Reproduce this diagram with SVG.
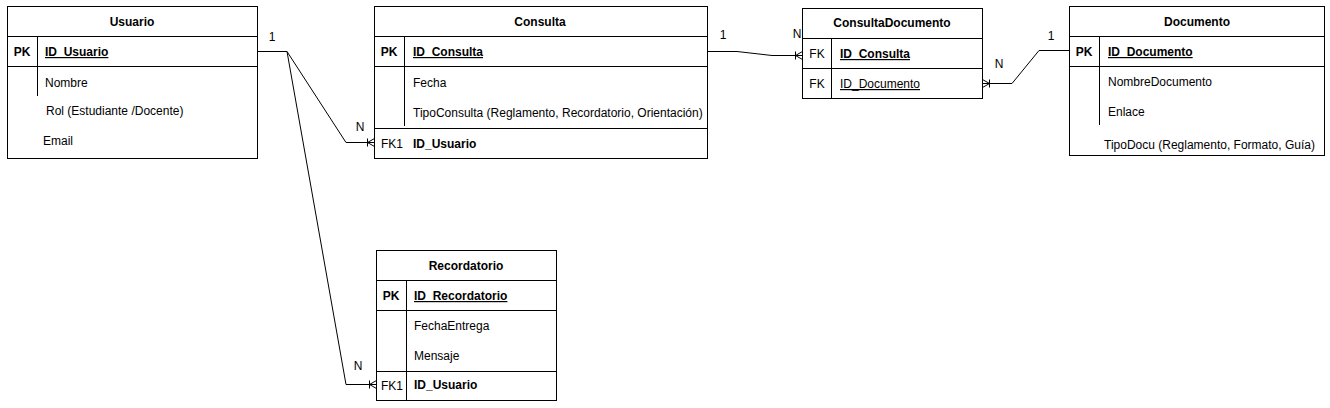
<svg xmlns="http://www.w3.org/2000/svg" width="1330" height="408" viewBox="0 0 1330 408">
<style>
text{font-family:"Liberation Sans",Arial,Helvetica,sans-serif;font-size:12px;fill:#000}
.t{font-weight:bold;text-anchor:middle}
.b{font-weight:bold}
.u{text-decoration:underline}
.c{text-anchor:middle}
.box{fill:#fff;stroke:#000;stroke-width:1}
.ln{fill:none;stroke:#000;stroke-width:1}
</style>
<defs>
<marker id="many" markerUnits="userSpaceOnUse" viewBox="0 0 10 10" refX="10" refY="5" markerWidth="10" markerHeight="10" orient="auto">
<path d="M10,1 L3,5 L10,9 M3,1 L3,9" fill="none" stroke="#000" stroke-width="1"/>
</marker>
</defs>
<rect width="1330" height="408" fill="#fff"/>
<g id="connectors">
<path class="ln" d="M257.5,51.5 H287 L346,142.5 H374.5" marker-end="url(#many)"/>
<path class="ln" d="M287,51.5 L346,384.5 H376.5" marker-end="url(#many)"/>
<path class="ln" d="M707.5,51.5 H737 L772,55.5 H802.5" marker-end="url(#many)"/>
<path class="ln" d="M1069.5,50.5 H1039 L1012,83.5 H982.5" marker-end="url(#many)"/>
<text x="272" y="41" class="c">1</text>
<text x="360" y="131" class="c">N</text>
<text x="358" y="370" class="c">N</text>
<text x="723" y="39" class="c">1</text>
<text x="797" y="38" class="c">N</text>
<text x="1051" y="40" class="c">1</text>
<text x="999" y="68" class="c">N</text>
</g>
<g id="Usuario">
<rect class="box" x="7.5" y="6.5" width="250" height="152"/>
<path class="ln" d="M7.5,36.5 H257.5 M7.5,66.5 H257.5 M37.5,36.5 V96"/>
<text x="132" y="26" class="t">Usuario</text>
<text x="22" y="56" class="c b">PK</text>
<text x="45" y="56" class="b u">ID_Usuario</text>
<text x="45" y="87">Nombre</text>
<text x="46" y="115">Rol (Estudiante /Docente)</text>
<text x="43" y="145">Email</text>
</g>
<g id="Consulta">
<rect class="box" x="374.5" y="6.5" width="333" height="152"/>
<path class="ln" d="M374.5,36.5 H707.5 M374.5,66.5 H707.5 M374.5,128.5 H707.5 M404.5,36.5 V126"/>
<text x="540" y="26" class="t">Consulta</text>
<text x="389" y="56" class="c b">PK</text>
<text x="413" y="56" class="b u">ID_Consulta</text>
<text x="413" y="87">Fecha</text>
<text x="413" y="117">TipoConsulta (Reglamento, Recordatorio, Orientación)</text>
<text x="392" y="148" class="c">FK1</text>
<text x="413" y="148" class="b">ID_Usuario</text>
</g>
<g id="ConsultaDocumento">
<rect class="box" x="802.5" y="8.5" width="180" height="90"/>
<path class="ln" d="M802.5,38.5 H982.5 M802.5,68.5 H982.5 M831.5,38.5 V98.5"/>
<text x="892" y="27" class="t">ConsultaDocumento</text>
<text x="817" y="58" class="c">FK</text>
<text x="840" y="58" class="b u">ID_Consulta</text>
<text x="817" y="88" class="c">FK</text>
<text x="840" y="88" class="u">ID_Documento</text>
</g>
<g id="Documento">
<rect class="box" x="1069.5" y="6.5" width="255" height="149"/>
<path class="ln" d="M1069.5,36.5 H1324.5 M1069.5,66.5 H1324.5 M1099.5,36.5 V125"/>
<text x="1197" y="26" class="t">Documento</text>
<text x="1084" y="56" class="c b">PK</text>
<text x="1108" y="56" class="b u">ID_Documento</text>
<text x="1108" y="86">NombreDocumento</text>
<text x="1108" y="116">Enlace</text>
<text x="1104" y="149">TipoDocu (Reglamento, Formato, Guía)</text>
</g>
<g id="Recordatorio">
<rect class="box" x="376.5" y="250.5" width="180" height="150"/>
<path class="ln" d="M376.5,280.5 H556.5 M376.5,310.5 H556.5 M376.5,371.5 H556.5 M406.5,280.5 V400.5"/>
<text x="466" y="270" class="t">Recordatorio</text>
<text x="391" y="300" class="c b">PK</text>
<text x="414" y="300" class="b u">ID_Recordatorio</text>
<text x="414" y="330">FechaEntrega</text>
<text x="414" y="360">Mensaje</text>
<text x="392" y="390" class="c">FK1</text>
<text x="414" y="389" class="b">ID_Usuario</text>
</g>
</svg>
